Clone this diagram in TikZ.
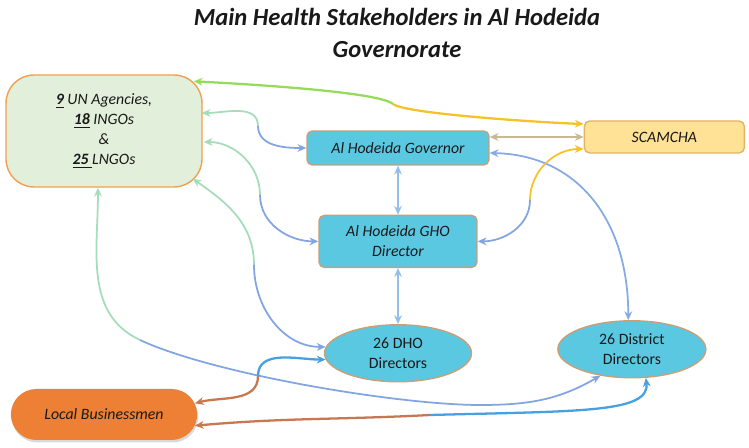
\documentclass[tikz,border=0pt]{standalone}
\usepackage{fontspec}
\setmainfont{Carlito}
\usepackage{tikz}
\usetikzlibrary{arrows.meta,positioning,shapes.geometric,shapes.misc,shadows}

\definecolor{boxcyan}{RGB}{91,200,226}
\definecolor{boxline}{RGB}{200,160,120}
\definecolor{ngofill}{RGB}{226,239,218}
\definecolor{ngoline}{RGB}{240,160,80}
\definecolor{scamfill}{RGB}{255,226,150}
\definecolor{scamline}{RGB}{225,180,100}
\definecolor{lbfill}{RGB}{237,128,52}
\definecolor{lkgreen}{RGB}{150,220,90}
\definecolor{lkyellow}{RGB}{245,195,40}
\definecolor{lktan}{RGB}{200,185,150}
\definecolor{lkblue}{RGB}{150,190,235}
\definecolor{lkpale}{RGB}{165,220,185}
\definecolor{lkmid}{RGB}{130,165,225}
\definecolor{lkbrown}{RGB}{200,120,80}
\definecolor{lkdeep}{RGB}{70,160,225}

\begin{document}
\begin{tikzpicture}[x=0.02cm, y=0.02cm, every node/.style={font=\fontsize{9}{11.2}\selectfont, text=black!90}]
\tikzset{box/.style={draw=boxline, fill=boxcyan, line width=0.8pt, rounded corners=3pt, align=center, inner sep=0pt, font=\fontsize{9}{11.2}\selectfont\itshape}}
\tikzset{oval/.style={ellipse, draw=boxline, fill=boxcyan, line width=0.8pt, align=center, inner sep=0pt, minimum height=1.14cm}}
\tikzset{link/.style={line width=1pt, -{Stealth[length=5pt,width=4.4pt]}}}
\tikzset{twoway/.style={line width=1pt, {Stealth[length=5pt,width=4.4pt]}-{Stealth[length=5pt,width=4.4pt]}}}
\useasboundingbox (0,0) rectangle (749,448);

\node[anchor=north, align=center, font=\fontsize{14}{18}\selectfont\bfseries\itshape] (title) at (397,446) {Main Health Stakeholders in Al Hodeida\\Governorate};

\node[draw=ngoline, fill=ngofill, line width=0.8pt, rounded corners=0.56cm, minimum width=3.92cm, minimum height=2.24cm, align=center, font=\fontsize{9}{11.3}\selectfont\itshape] (ngo) at (104,317) {\underline{\textbf{9}} UN Agencies,\\\underline{\textbf{18}} INGOs\\\&\\\underline{\textbf{25}~}LNGOs};
\node[box, minimum width=3.64cm, minimum height=0.68cm] (gov) at (398,300) {Al Hodeida Governor};
\node[box, minimum width=3.16cm, minimum height=1.04cm, below=0.98cm of gov] (gho) {Al Hodeida GHO\\Director};
\node[oval, minimum width=2.94cm, below=1.12cm of gho] (dho) {26 DHO\\Directors};
\node[box, draw=scamline, fill=scamfill, minimum width=3.2cm, minimum height=0.64cm, right=1.88cm of gov, yshift=0.22cm] (scam) {SCAMCHA};
\node[oval, minimum width=2.96cm, right=1.7cm of dho, yshift=0.08cm] (dist) {26 District\\Directors};
\node[rounded rectangle, fill=lbfill, minimum width=3.96cm, minimum height=1.02cm, drop shadow={opacity=0.3, shadow xshift=0.6pt, shadow yshift=-1.4pt}, below=4.02cm of ngo, font=\fontsize{9}{11.2}\selectfont\itshape] (lb) {Local Businessmen};

% joints where the colour of a link changes
\coordinate (j0) at (393,344);
\coordinate (j1) at (258,322);
\coordinate (j2) at (260,253);
\coordinate (j3) at (254,183);
\coordinate (j4) at (480,43);
\coordinate (j4b) at (140,108);
\coordinate (j5) at (530,248);
\coordinate (j6) at (258,72);
\coordinate (j7) at (430,33);

% NGOs <-> SCAMCHA
\draw[link, lkgreen, line width=1.3pt] (j0) to[out=140, in=-3, out looseness=0.25, in looseness=0.6] ([shift={(-9,-7)}]ngo.north east);
\draw[link, lkyellow, line width=1.3pt] (j0) to[out=-40, in=178, out looseness=0.2, in looseness=0.6] ([shift={(0,13)}]scam.west);

% Governor, GHO, DHO, SCAMCHA
\draw[twoway, lktan] (scam.west) -- (scam.west -| gov.east);
\draw[twoway, lkblue] (gov) -- (gho);
\draw[twoway, lkblue] (gho) -- (dho);
\draw[twoway, lkmid!80!lkblue] ([shift={(0,-5)}]gov.east) .. controls +(88,-2) and +(0,100) .. (dist.97);
\draw[link, lkmid] (j5) to[out=-90, in=0] (gho.east);
\draw[link, lkyellow] (j5) to[out=90, in=180] ([shift={(0,-12)}]scam.west);

% NGOs <-> public side
\draw[link, lkpale] (j1) to[out=90, in=0] ([shift={(-1,18)}]ngo.east);
\draw[link, lkmid] (j1) to[out=-90, in=180] (gov.west);
\draw[link, lkpale] (j2) to[out=90, in=0] ([shift={(1,-11)}]ngo.east);
\draw[link, lkmid] (j2) to[out=-90, in=180] (gho.west);
\draw[link, lkpale] (j3) to[out=90, in=-35] ([shift={(-10,9)}]ngo.south east);
\draw[link, lkmid] (j3) to[out=-90, in=180] (dho.175);
\draw[line width=1pt, lkmid] (j4) to[out=180, in=-25, looseness=0.6] (j4b);
\draw[link, lkpale] (j4b) to[out=155, in=-90] ([shift={(-6,0)}]ngo.south);
\draw[link, lkmid] (j4) to[out=0, in=210] (dist.220);

% Local Businessmen
\draw[link, lkbrown, line width=1.3pt] (j6) to[out=-90, in=15] (lb.7);
\draw[link, lkdeep, line width=1.3pt] (j6) to[out=90, in=180] (dho.185);
\draw[link, lkbrown, line width=1.3pt] (j7) to[out=183, in=5] (lb.353);
\draw[link, lkdeep, line width=1.3pt] (j7) .. controls (580,37) and (650,35) .. (dist.296);
\end{tikzpicture}
\end{document}
